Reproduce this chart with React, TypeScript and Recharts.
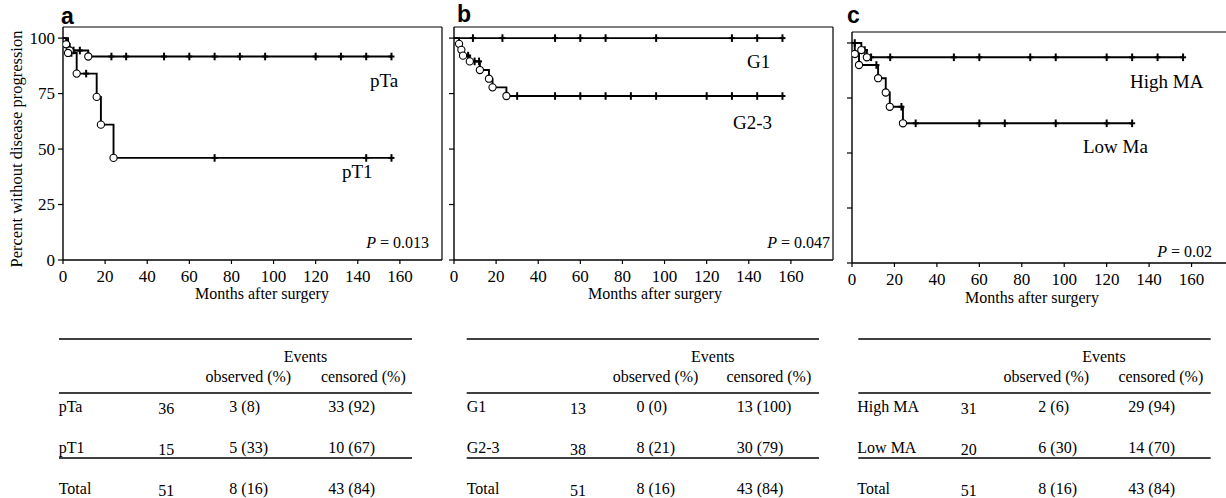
import React from 'react';
import { ComposedChart, Line, Scatter, XAxis, YAxis, ReferenceLine } from 'recharts';

const MONTH_TICKS = [0, 20, 40, 60, 80, 100, 120, 140, 160];
const PCT_TICKS = [0, 25, 50, 75, 100];

// panel a: pTa / pT1  ([month, percent])
const pTaCurve = [[0, 100], [1.5, 97.2], [3.2, 94.4], [12, 91.7], [156, 91.7]];
const pTaEvents = [[1.5, 97.2], [3.2, 94.4], [12, 91.7]];
const pTaCensored = [[5, 94.4], [8, 94.4], [23, 91.7], [30, 91.7], [48, 91.7], [60, 91.7], [72, 91.7], [84, 91.7], [96, 91.7], [120, 91.7], [132, 91.7], [144, 91.7], [156, 91.7]];
const pT1Curve = [[0, 100], [2.4, 93.3], [6.5, 84], [16, 73.5], [18, 61], [24, 46], [156, 46]];
const pT1Events = [[2.4, 93.3], [6.5, 84], [16, 73.5], [18, 61], [24, 46]];
const pT1Censored = [[4, 93.3], [11, 84], [72, 46], [144, 46], [156, 46]];

// panel b: G1 / G2-3
const g1Curve = [[0, 100], [156, 100]];
const g1Censored = [[9, 100], [23, 100], [48, 100], [60, 100], [72, 100], [96, 100], [132, 100], [144, 100], [156, 100]];
const g23Curve = [[0, 100], [2.4, 97.4], [3.5, 94.7], [4.3, 92.1], [7.5, 89.5], [12.3, 85.6], [16.6, 81.7], [18.3, 77.8], [24.9, 73.9], [156, 73.9]];
const g23Events = [[2.4, 97.4], [3.5, 94.7], [4.3, 92.1], [7.5, 89.5], [12.3, 85.6], [16.6, 81.7], [18.3, 77.8], [24.9, 73.9]];
const g23Censored = [[6.7, 92.1], [9.8, 89.5], [11.9, 89.5], [30, 73.9], [48, 73.9], [60, 73.9], [72, 73.9], [84, 73.9], [96, 73.9], [120, 73.9], [132, 73.9], [144, 73.9], [156, 73.9]];

// panel c: High MA / Low MA
const highCurve = [[0, 100], [4.4, 96.8], [7, 93.5], [156, 93.5]];
const highEvents = [[4.4, 96.8], [7, 93.5]];
const highCensored = [[1.3, 100], [6, 96.8], [9, 93.5], [18, 93.5], [48, 93.5], [60, 93.5], [84, 93.5], [96, 93.5], [120, 93.5], [132, 93.5], [144, 93.5], [156, 93.5]];
const lowCurve = [[0, 100], [1.3, 95], [3.3, 90], [12.3, 84], [15.9, 77.5], [17.8, 71], [24, 63.5], [132, 63.5]];
const lowEvents = [[1.3, 95], [3.3, 90], [12.3, 84], [15.9, 77.5], [17.8, 71], [24, 63.5]];
const lowCensored = [[11.5, 90], [23.3, 71], [30, 63.5], [60, 63.5], [72, 63.5], [96, 63.5], [120, 63.5], [132, 63.5]];

// tables
const labelsA = ['pTa', 'pT1', 'Total'];
const countsA = ['36', '15', '51'];
const observedA = ['3 (8)', '5 (33)', '8 (16)'];
const censoredA = ['33 (92)', '10 (67)', '43 (84)'];
const labelsB = ['G1', 'G2-3', 'Total'];
const countsB = ['13', '38', '51'];
const observedB = ['0 (0)', '8 (21)', '8 (16)'];
const censoredB = ['13 (100)', '30 (79)', '43 (84)'];
const labelsC = ['High MA', 'Low MA', 'Total'];
const countsC = ['31', '20', '51'];
const observedC = ['2 (6)', '6 (30)', '8 (16)'];
const censoredC = ['29 (94)', '14 (70)', '43 (84)'];

const SERIF = '"Liberation Serif", "Times New Roman", serif';
const SANS = '"Liberation Sans", Arial, sans-serif';

const pts = (arr: number[][]) => arr.map(([t, s]) => ({ t, s }));

const EventDot = (p: any) => (
  <circle cx={p.cx} cy={p.cy} r={3.6} fill="#fff" stroke="#000" strokeWidth={1.1} />
);
const CensorMark = (p: any) => (
  <g>
    <line x1={p.cx} x2={p.cx} y1={p.cy - 3.8} y2={p.cy + 3.8} stroke="#000" strokeWidth={2} />
    <line x1={p.cx - 3} x2={p.cx + 3} y1={p.cy} y2={p.cy} stroke="#000" strokeWidth={2} />
  </g>
);

const XTick = (p: any) => (
  <text x={p.x} y={p.y} dy={11} textAnchor="middle" fontFamily={SERIF} fontSize={17} fill="#000">
    {p.payload.value}
  </text>
);
const YTick = (p: any) => (
  <text x={p.x} y={p.y} dy={5.5} textAnchor="end" fontFamily={SERIF} fontSize={17} fill="#000">
    {p.payload.value}
  </text>
);
const NoTick = () => <g />;

type Group = { curve: number[][]; events: number[][]; censored: number[][] };

function Panel({ left, top, width, height, groups, yLabels }: {
  left: number; top: number; width: number; height: number; groups: Group[]; yLabels: boolean;
}) {
  return (
    <div style={{ position: 'absolute', left, top }}>
      <ComposedChart width={width} height={height} margin={{ top: 27, right: 18, bottom: 10, left: 53 }}>
        <XAxis
          type="number"
          dataKey="t"
          domain={[0, 180]}
          ticks={MONTH_TICKS}
          allowDataOverflow
          height={30}
          tickSize={4}
          tickMargin={7}
          axisLine={{ stroke: '#000', strokeWidth: 1.4 }}
          tickLine={{ stroke: '#000', strokeWidth: 1.2 }}
          tick={XTick}
        />
        <YAxis
          type="number"
          dataKey="s"
          domain={[0, 105]}
          ticks={PCT_TICKS}
          allowDataOverflow
          width={10}
          tickSize={5}
          tickMargin={3}
          axisLine={{ stroke: '#000', strokeWidth: 1.4 }}
          tickLine={{ stroke: '#000', strokeWidth: 1.2 }}
          tick={yLabels ? YTick : NoTick}
        />
        <ReferenceLine y={105} stroke="#000" strokeWidth={1.2} />
        <ReferenceLine x={180} stroke="#000" strokeWidth={1.2} />
        {groups.map((g, i) => (
          <Line
            key={'l' + i}
            data={pts(g.curve)}
            dataKey="s"
            type="stepAfter"
            stroke="#000"
            strokeWidth={1.9}
            dot={false}
            activeDot={false}
            isAnimationActive={false}
          />
        ))}
        {groups.map((g, i) => (
          <Scatter key={'c' + i} data={pts(g.censored)} dataKey="s" shape={CensorMark} isAnimationActive={false} />
        ))}
        {groups.map((g, i) => (
          <Scatter key={'e' + i} data={pts(g.events)} dataKey="s" shape={EventDot} isAnimationActive={false} />
        ))}
      </ComposedChart>
    </div>
  );
}

function Table({ x1, x2, labelX, nX, obsX, censX, eventsX, obsHeadX, censHeadX, labels, counts, observed, censored }: any) {
  const rowY = [412, 453, 494];
  return (
    <g fontFamily={SERIF} fontSize={16} fill="#000">
      <line x1={x1} x2={x2} y1={339} y2={339} stroke="#000" strokeWidth={1.3} />
      <line x1={x1} x2={x2} y1={393} y2={393} stroke="#000" strokeWidth={1.3} />
      <line x1={x1} x2={x2} y1={458} y2={458} stroke="#000" strokeWidth={1.3} />
      <text x={eventsX} y={362} textAnchor="middle">Events</text>
      <text x={obsHeadX} y={382} textAnchor="middle">observed (%)</text>
      <text x={censHeadX} y={382} textAnchor="middle">censored (%)</text>
      {labels.map((l: string, i: number) => (
        <g key={l}>
          <text x={labelX} y={rowY[i]}>{l}</text>
          <text x={nX} y={rowY[i] + 1.5}>{counts[i]}</text>
          <text x={obsX} y={rowY[i]}>{observed[i]}</text>
          <text x={censX} y={rowY[i]}>{censored[i]}</text>
        </g>
      ))}
    </g>
  );
}

export default function App() {
  return (
    <div style={{ position: 'absolute', left: 0, top: 0, width: 1226, height: 498, overflow: 'hidden', background: '#fff' }}>
      <Panel left={0} top={0} width={460} height={300} yLabels
        groups={[
          { curve: pTaCurve, events: pTaEvents, censored: pTaCensored },
          { curve: pT1Curve, events: pT1Events, censored: pT1Censored },
        ]} />
      <Panel left={391} top={0} width={460} height={300} yLabels={false}
        groups={[
          { curve: g1Curve, events: [], censored: g1Censored },
          { curve: g23Curve, events: g23Events, censored: g23Censored },
        ]} />
      <Panel left={789} top={5} width={463} height={298} yLabels={false}
        groups={[
          { curve: highCurve, events: highEvents, censored: highCensored },
          { curve: lowCurve, events: lowEvents, censored: lowCensored },
        ]} />
      <svg width={1226} height={498} style={{ position: 'absolute', left: 0, top: 0, pointerEvents: 'none' }}>
        <g fontFamily={SANS} fontWeight="bold" fontSize={23} fill="#000">
          <text x={61} y={24}>a</text>
          <text x={457} y={22}>b</text>
          <text x={847} y={23}>c</text>
        </g>
        <g fontFamily={SERIF} fill="#000">
          <text transform="translate(16,149) rotate(-90)" textAnchor="middle" dy="0.35em" fontSize={16.5}>
            Percent without disease progression
          </text>
          <text x={262} y={299} textAnchor="middle" fontSize={16}>Months after surgery</text>
          <text x={655} y={299} textAnchor="middle" fontSize={16}>Months after surgery</text>
          <text x={1032} y={303} textAnchor="middle" fontSize={16}>Months after surgery</text>
          <g fontSize={19}>
            <text x={370} y={87}>pTa</text>
            <text x={342} y={178}>pT1</text>
            <text x={747} y={68}>G1</text>
            <text x={733} y={129}>G2-3</text>
            <text x={1130} y={88}>High MA</text>
            <text x={1083} y={153}>Low Ma</text>
          </g>
          <g fontSize={16}>
            <text x={429} y={248} textAnchor="end"><tspan fontStyle="italic">P</tspan> = 0.013</text>
            <text x={830} y={248} textAnchor="end"><tspan fontStyle="italic">P</tspan> = 0.047</text>
            <text x={1212} y={257} textAnchor="end"><tspan fontStyle="italic">P</tspan> = 0.02</text>
          </g>
        </g>
        <Table x1={59} x2={412} labelX={58.7} nX={158.3} obsX={229.3} censX={328.3} eventsX={305.5} obsHeadX={248.3} censHeadX={363.3}
          labels={labelsA} counts={countsA} observed={observedA} censored={censoredA} />
        <Table x1={466.7} x2={819} labelX={466.7} nX={570} obsX={636.5} censX={736.7} eventsX={712.8} obsHeadX={655.5} censHeadX={768.8}
          labels={labelsB} counts={countsB} observed={observedB} censored={censoredB} />
        <Table x1={858.3} x2={1210.7} labelX={857.3} nX={960.7} obsX={1038.3} censX={1128.3} eventsX={1104} obsHeadX={1046.3} censHeadX={1160.8}
          labels={labelsC} counts={countsC} observed={observedC} censored={censoredC} />
      </svg>
    </div>
  );
}
